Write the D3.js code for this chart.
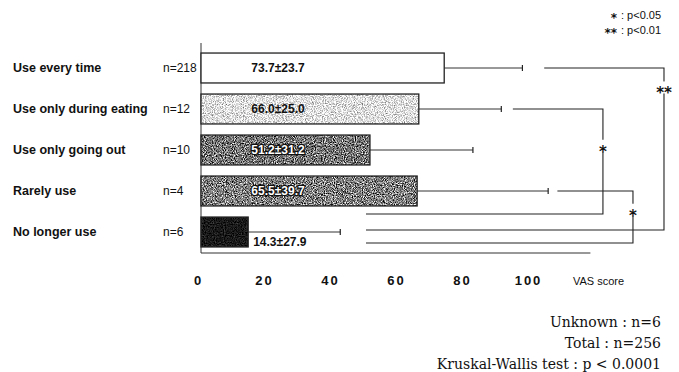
<!DOCTYPE html>
<html>
<head>
<meta charset="utf-8">
<title>VAS score by use</title>
<style>
body { margin: 0; background: #fff; }
svg { display: block; }
text { font-family: "Liberation Sans", Arial, sans-serif; }
.cat { font-size: 12.5px; font-weight: bold; fill: #111; }
.ncount { font-size: 12px; fill: #111; }
.val { font-size: 12px; font-weight: bold; }
.tick text { font-size: 13px; font-weight: bold; letter-spacing: 2px; fill: #111; }
.note { font-family: "DejaVu Serif", "Liberation Serif", serif; font-size: 14px; fill: #111; }
.legend { font-size: 11px; fill: #111; }
.star { font-family: "DejaVu Sans", sans-serif; font-size: 15px; font-weight: bold; fill: #111; }
</style>
</head>
<body>
<svg width="679" height="372"></svg>
<script src="https://d3js.org/d3.v7.min.js"></script>
<script>

// data
var categories = ["Use every time", "Use only during eating", "Use only going out", "Rarely use", "No longer use"];
var counts = [218, 12, 10, 4, 6];
var means = [73.7, 66.0, 51.2, 65.5, 14.3];
var sds = [23.7, 25.0, 31.2, 39.7, 27.9];
var tickValues = [0, 20, 40, 60, 80, 100];
var comparisons = [
  {a: "Use every time", b: "No longer use", sig: "**"},
  {a: "Use only during eating", b: "No longer use", sig: "*"},
  {a: "Rarely use", b: "No longer use", sig: "*"}
];
var notes = ["Unknown : n=6", "Total : n=256", "Kruskal-Wallis test : p < 0.0001"];
var legendItems = [["*", "p<0.05"], ["**", "p<0.01"]];

// look of each bar: mean grey of the stipple, noise contrast, white text or not
var barStyle = [
  {grey: 1.0, noise: 0, light: false},
  {grey: 0.88, noise: 1.3, light: false},
  {grey: 0.46, noise: 1.9, light: true},
  {grey: 0.5, noise: 2.0, light: true},
  {grey: 0.1, noise: 0.5, light: true}
];
// where the significance brackets sit (data units / px offsets)
var bracketLayout = [
  {start: 104, vx: 140.3, dyB: -2, star: 0.12},
  {start: 94.5, vx: 121.8, dyB: -18, star: 0.35},
  {start: 108, vx: 130.9, dyB: 11, star: 0.36}
];

var svg = d3.select("svg");

var x = d3.scaleLinear().domain([0, 100]).range([201, 531]);
var y = d3.scaleBand().domain(categories).range([47.5, 252.5])
    .paddingInner(0.27).paddingOuter(0.135);

var defs = svg.append("defs");
barStyle.forEach(function(s, i) {
  var f = defs.append("filter").attr("id", "stip" + i)
      .attr("x", 0).attr("y", 0).attr("width", 1).attr("height", 1)
      .attr("color-interpolation-filters", "sRGB");
  f.append("feTurbulence").attr("type", "fractalNoise")
      .attr("baseFrequency", 0.9).attr("numOctaves", 2).attr("seed", 7 + i)
      .attr("result", "n");
  f.append("feColorMatrix").attr("in", "n").attr("type", "matrix")
      .attr("values", "1 0 0 0 0  1 0 0 0 0  1 0 0 0 0  0 0 0 0 1")
      .attr("result", "g");
  var ct = f.append("feComponentTransfer").attr("in", "g").attr("result", "c");
  ["feFuncR", "feFuncG", "feFuncB"].forEach(function(fn) {
    ct.append(fn).attr("type", "linear")
      .attr("slope", s.noise).attr("intercept", s.grey - s.noise * 0.5);
  });
  f.append("feComposite").attr("in", "c").attr("in2", "SourceGraphic").attr("operator", "in");
});

// axes lines
svg.append("line")
    .attr("x1", x(0)).attr("x2", x(0)).attr("y1", 43).attr("y2", 253)
    .attr("stroke", "#333").attr("stroke-width", 1);
svg.append("line")
    .attr("x1", x(0)).attr("x2", x(118)).attr("y1", 253).attr("y2", 253)
    .attr("stroke", "#333").attr("stroke-width", 1.2);

var rows = categories.map(function(c, i) {
  return {cat: c, n: counts[i], mean: means[i], sd: sds[i], style: barStyle[i], i: i};
});
var yMid = function(c) { return y(c) + y.bandwidth() / 2; };

// error bars
var err = svg.append("g").selectAll("g").data(rows).enter().append("g");
err.append("line")
    .attr("x1", function(d) { return x(d.mean); })
    .attr("x2", function(d) { return x(d.mean + d.sd); })
    .attr("y1", function(d) { return yMid(d.cat); })
    .attr("y2", function(d) { return yMid(d.cat); })
    .attr("stroke", "#333").attr("stroke-width", 1);
err.append("line")
    .attr("x1", function(d) { return x(d.mean + d.sd); })
    .attr("x2", function(d) { return x(d.mean + d.sd); })
    .attr("y1", function(d) { return yMid(d.cat) - 3; })
    .attr("y2", function(d) { return yMid(d.cat) + 3; })
    .attr("stroke", "#222").attr("stroke-width", 1.2);

// bars
var bars = svg.append("g").selectAll("g").data(rows).enter().append("g");
bars.append("rect")
    .attr("x", x(0))
    .attr("y", function(d) { return y(d.cat); })
    .attr("width", function(d) { return x(d.mean) - x(0); })
    .attr("height", y.bandwidth())
    .attr("fill", "#fff")
    .attr("filter", function(d) { return d.style.noise ? "url(#stip" + d.i + ")" : null; });
bars.append("rect")
    .attr("x", x(0))
    .attr("y", function(d) { return y(d.cat); })
    .attr("width", function(d) { return x(d.mean) - x(0); })
    .attr("height", y.bandwidth())
    .attr("fill", "none").attr("stroke", "#222").attr("stroke-width", 1.3);

// value labels
svg.append("g").selectAll("text").data(rows).enter().append("text")
    .attr("class", "val")
    .attr("x", function(d) { return d.i === 4 ? x(d.mean) + 5 : 278; })
    .attr("y", function(d) { return yMid(d.cat) + (d.i === 4 ? 10 : 0); })
    .attr("dy", "0.35em")
    .attr("text-anchor", function(d) { return d.i === 4 ? "start" : "middle"; })
    .attr("fill", function(d) { return d.style.light && d.i !== 4 ? "#fff" : "#111"; })
    .attr("stroke", function(d) { return d.style.light && d.i !== 4 ? "#111" : "none"; })
    .attr("stroke-width", 2.4)
    .attr("paint-order", "stroke")
    .text(function(d) { return d.mean.toFixed(1) + "±" + d.sd.toFixed(1); });

// category and n labels
svg.append("g").selectAll("text").data(rows).enter().append("text")
    .attr("class", "cat")
    .attr("x", 13)
    .attr("y", function(d) { return yMid(d.cat); })
    .attr("dy", "0.35em")
    .text(function(d) { return d.cat; });
svg.append("g").selectAll("text").data(rows).enter().append("text")
    .attr("class", "ncount")
    .attr("x", 163)
    .attr("y", function(d) { return yMid(d.cat); })
    .attr("dy", "0.35em")
    .text(function(d) { return "n=" + d.n; });

// x axis labels
var axis = svg.append("g")
    .attr("transform", "translate(-3,276)")
    .call(d3.axisBottom(x).tickValues(tickValues).tickSize(0).tickPadding(0));
axis.select(".domain").remove();
axis.selectAll(".tick text").attr("dy", "0.7em");
svg.append("text")
    .attr("class", "legend")
    .attr("x", 573).attr("y", 281).attr("dy", "0.35em")
    .text("VAS score");

// significance brackets
comparisons.forEach(function(c, i) {
  var L = bracketLayout[i];
  var ya = yMid(c.a), yb = yMid(c.b) + L.dyB, vx = x(L.vx);
  svg.append("path")
      .attr("d", "M" + x(L.start) + "," + ya + "H" + vx + "V" + yb + "H" + x(50))
      .attr("fill", "none").attr("stroke", "#222").attr("stroke-width", 1.1);
  var sy = ya + (yb - ya) * L.star;
  svg.append("rect")
      .attr("x", vx - 9).attr("y", sy - 6).attr("width", 18).attr("height", 12)
      .attr("fill", "#fff");
  svg.append("text")
      .attr("class", "star")
      .attr("x", vx).attr("y", sy).attr("dy", "0.72em")
      .attr("text-anchor", "middle")
      .text(c.sig);
});

// legend
var lg = svg.append("g").selectAll("g").data(legendItems).enter().append("g");
lg.append("text").attr("class", "star")
    .attr("x", 617).attr("y", function(d, i) { return 14 + i * 15; })
    .attr("dy", "0.7em").attr("text-anchor", "end")
    .style("font-size", "12px")
    .text(function(d) { return d[0]; });
lg.append("text").attr("class", "legend")
    .attr("x", 621).attr("y", function(d, i) { return 15 + i * 15; })
    .attr("dy", "0.35em")
    .text(function(d) { return ": " + d[1]; });

// notes
svg.append("g").selectAll("text").data(notes).enter().append("text")
    .attr("class", "note")
    .attr("x", 661)
    .attr("y", function(d, i) { return 322 + i * 21; })
    .attr("dy", "0.35em")
    .attr("text-anchor", "end")
    .text(function(d) { return d; });

</script>
</body>
</html>
